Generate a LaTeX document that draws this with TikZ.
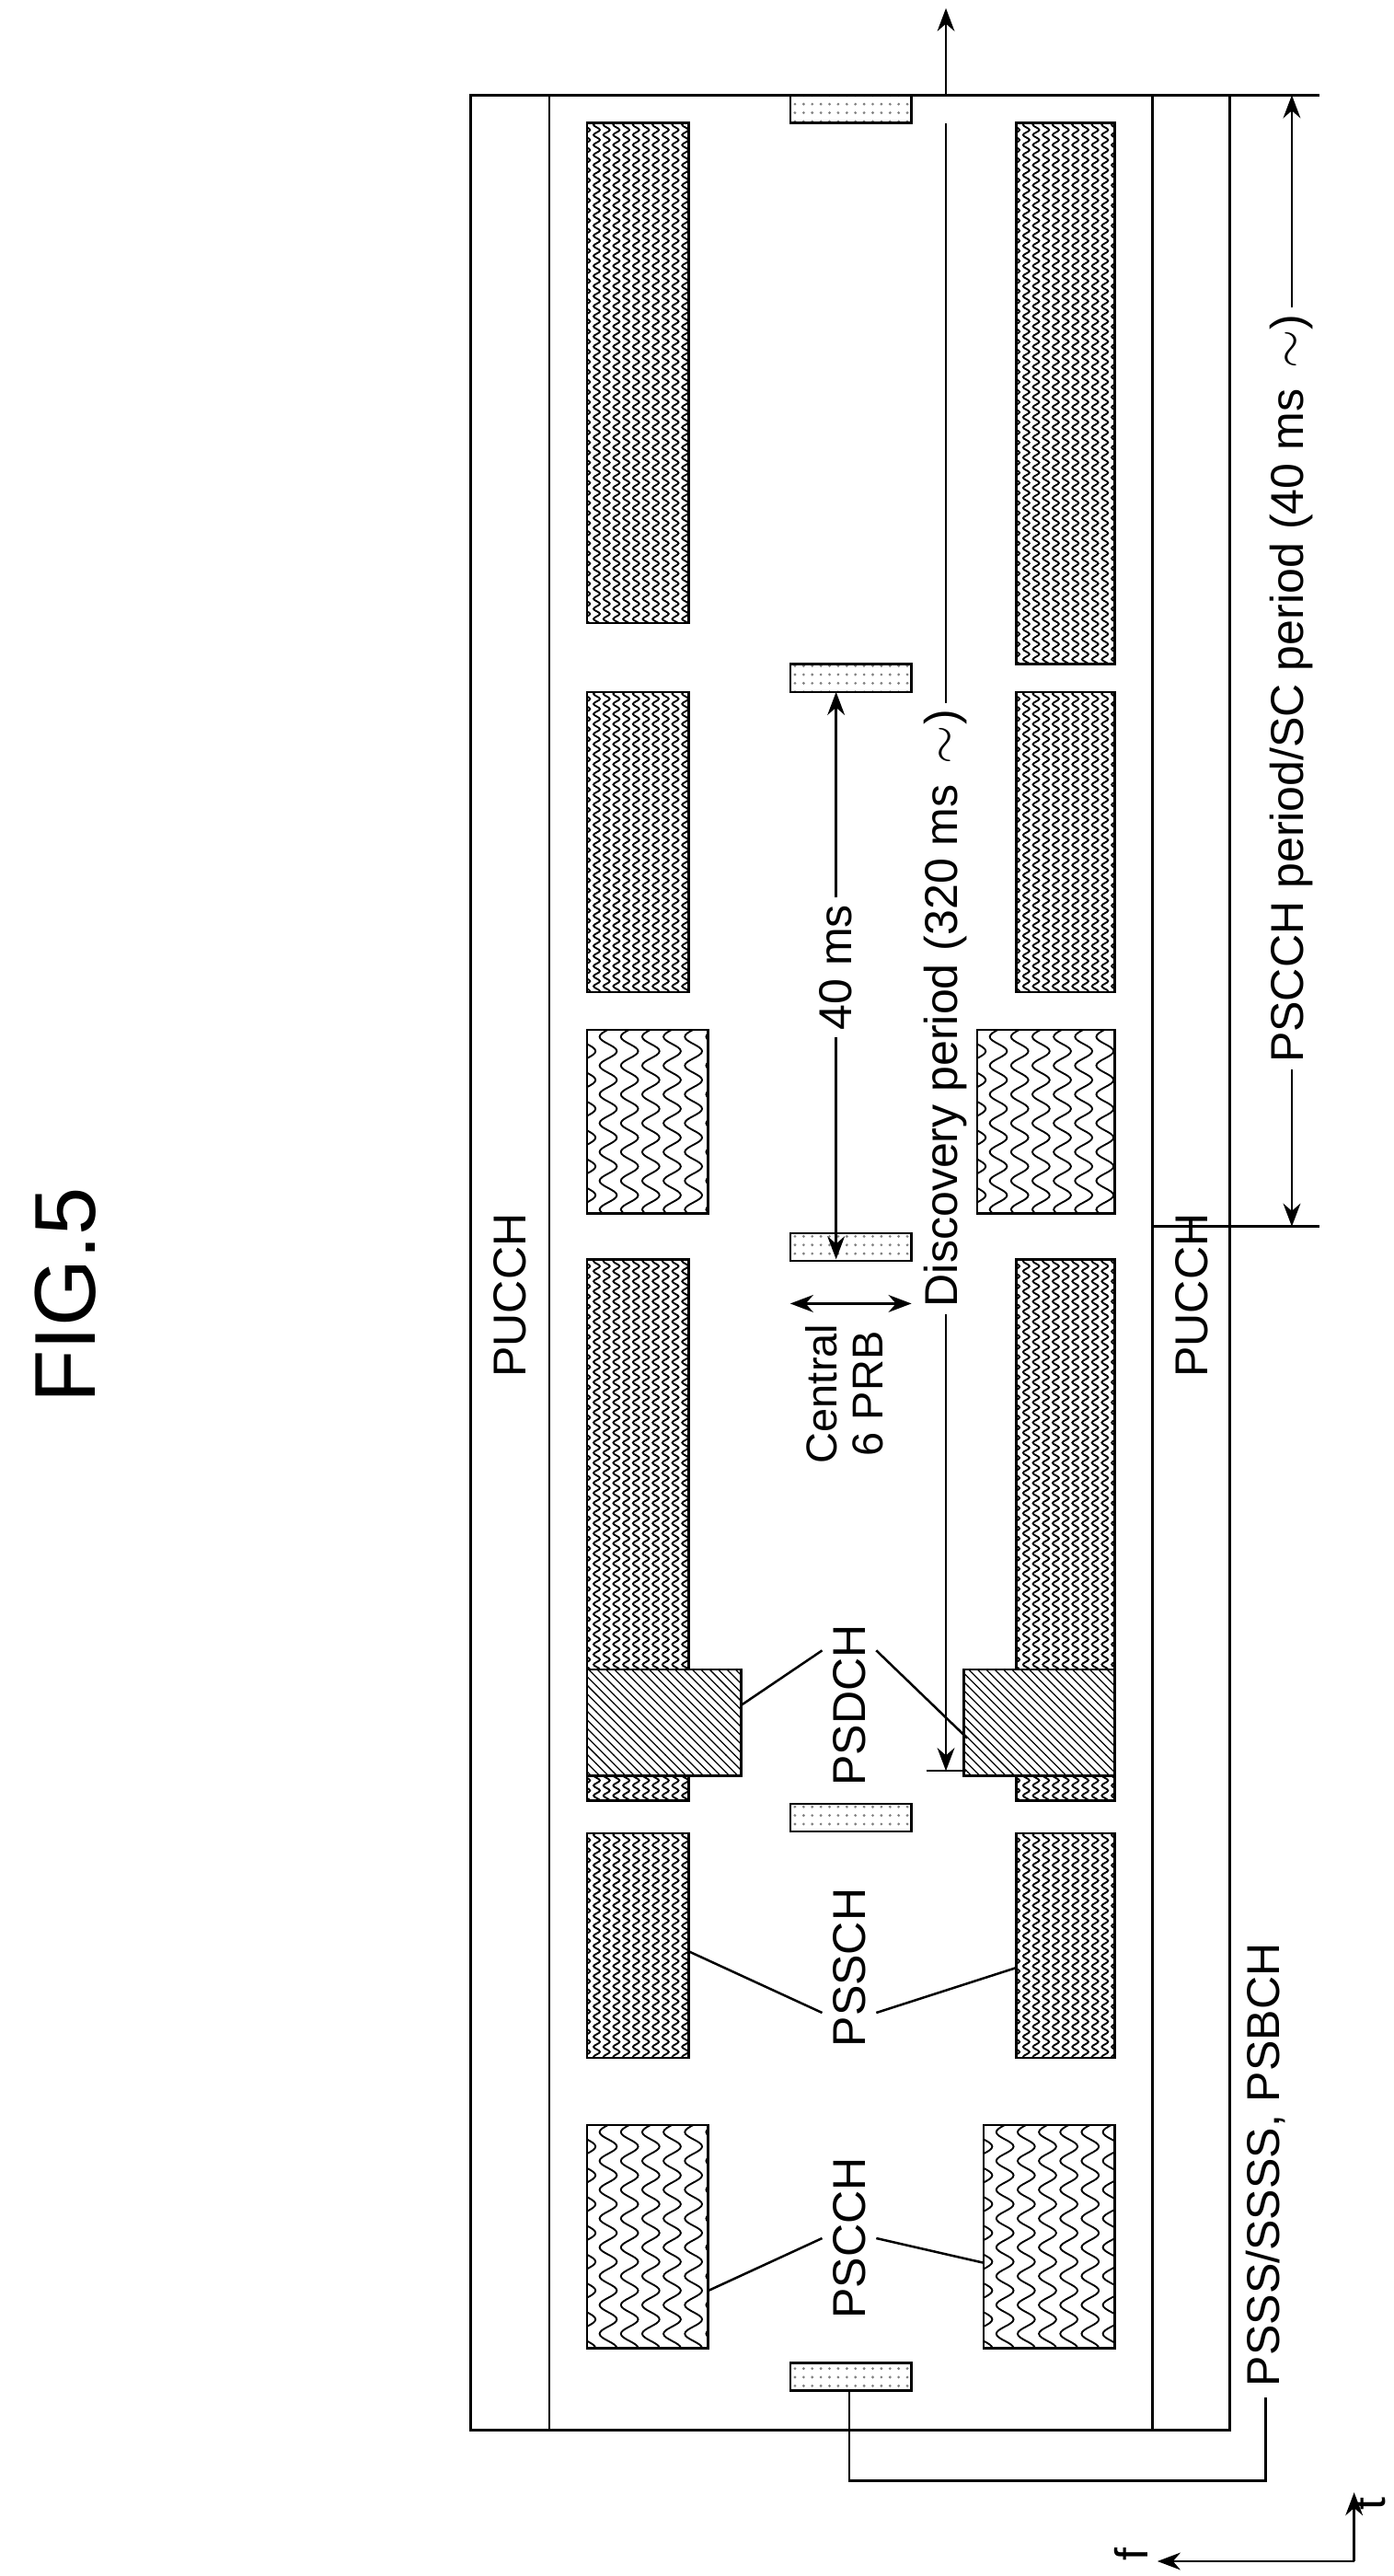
\documentclass[tikz,border=0pt]{standalone}
\usepackage{fontspec}
\setmainfont{Liberation Sans}
\usetikzlibrary{decorations.pathmorphing,patterns,arrows.meta,calc}
\tikzset{
  lbl/.style={rotate=90, font=\fontsize{16}{17}\selectfont},
  dots/.style={draw, pattern=dots, pattern color=gray},
  arr/.style={-{Stealth[length=8pt]}},
}
% wavy block: x1,y1,x2,y2,spacing,amplitude,segment
\newcommand{\wavblk}[7]{%
  \begin{scope}
    \clip (#1,#2) rectangle (#3,#4);
    \foreach \xx in {0,#5,...,100}
      \draw[line width=0.6pt, decorate, decoration={snake, amplitude=#6, segment length=#7}]
        ({#1+\xx},{#2-10}) -- ({#1+\xx},{#4+10});
  \end{scope}
  \draw (#1,#2) rectangle (#3,#4);}
\newcommand{\dense}[4]{\wavblk{#1}{#2}{#3}{#4}{6}{1.1pt}{3.5pt}}
\newcommand{\coarse}[4]{\wavblk{#1}{#2}{#3}{#4}{13}{3pt}{10pt}}
\newcommand{\hatch}[4]{\fill[white] (#1,#2) rectangle (#3,#4);
  \draw[pattern=north west lines] (#1,#2) rectangle (#3,#4);}
\begin{document}
\begin{tikzpicture}[x=0.02cm, y=-0.02cm, line width=0.8pt]
\useasboundingbox (0,0) rectangle (850,1571);
\node[lbl, font=\fontsize{30}{32}\selectfont] (fig) at (40,790) {FIG.5};

% frame and PUCCH bands
\draw (287,58) rectangle (750,1482);
\draw (335,58) -- (335,1482);
\draw (703,58) -- (703,1482);
\node[lbl] (pucchL) at (311,790) {PUCCH};
\node[lbl, fill=white, inner sep=1pt] (pucchR) at (727,790) {PUCCH};

% left column
\dense{358}{75}{420}{380}
\dense{358}{422}{420}{605}
\coarse{358}{628}{432}{740}
\dense{358}{768}{420}{1098}
\hatch{358}{1018}{452}{1083}
\dense{358}{1118}{420}{1255}
\coarse{358}{1296}{432}{1432}
% right column
\dense{620}{75}{680}{405}
\dense{620}{422}{680}{605}
\coarse{596}{628}{680}{740}
\dense{620}{768}{680}{1098}
\hatch{588}{1018}{680}{1083}
\dense{620}{1118}{680}{1255}
\coarse{600}{1296}{680}{1432}

% dotted blocks
\foreach \yy/\nm in {58/d1,405/d2,752/d3,1100/d4,1441/d5}
  \draw[dots] (482,\yy) rectangle (556,\yy+17) coordinate (\nm);

% labels with leaders
\node[lbl] (pscch) at (518,1365) {PSCCH};
\draw (432,1397) -- (pscch.north); \draw (600,1380) -- (pscch.south);
\node[lbl] (pssch) at (518,1200) {PSSCH};
\draw (420,1190) -- ($(pssch.north)!0.5!(pssch.north west)$);
\draw (620,1200) -- ($(pssch.south)!0.5!(pssch.south west)$);
\node[lbl] (psdch) at (518,1040) {PSDCH};
\draw (452,1040) -- ($(psdch.north)!0.6!(psdch.north east)$);
\draw (590,1060) -- ($(psdch.south)!0.6!(psdch.south east)$);
\node[lbl, align=center, font=\fontsize{15}{16}\selectfont] (central) at (515,850) {Central\\6 PRB};
\draw[{Stealth[length=8pt]}-{Stealth[length=8pt]}] (482,795) -- (556,795);

% 40 ms
\node[lbl, fill=white, inner sep=2pt] (fortyms) at (510,590) {40 ms};
\draw[arr] (fortyms.east) -- (510,422);
\draw[arr] (fortyms.west) -- (510,768);

% discovery period
\node[lbl, fill=white, inner sep=2pt] (disc) at (577,615) {Discovery period (320 ms \,$\sim$)};
\draw (disc.east) -- (577,75);
\draw[arr] (disc.west) -- (577,1080);
\draw (565,1080) -- (590,1080);
\draw[arr] (577,58) -- (577,5);

% SC period
\draw (750,58) -- (805,58);
\draw (703,748) -- (805,748);
\node[lbl, fill=white, inner sep=2pt] (scper) at (788,420) {PSCCH period/SC period (40 ms \,$\sim$)};
\draw[arr] (scper.east) -- (788,58);
\draw[arr] (scper.west) -- (788,748);

% PSSS
\node[lbl, anchor=west] (psss) at (772,1462) {PSSS/SSSS, PSBCH};
\draw (518,1458) -- (518,1513) -- (772,1513) -- (psss.west);

% axes
\coordinate (org) at (826,1562);
\draw[arr] (org) -- (826,1520);
\draw[arr] (org) -- (706,1562);
\node[lbl, inner sep=1pt] (tlab) at (836,1527) {t};
\node[lbl] (flab) at (690,1558) {f};
\end{tikzpicture}
\end{document}
